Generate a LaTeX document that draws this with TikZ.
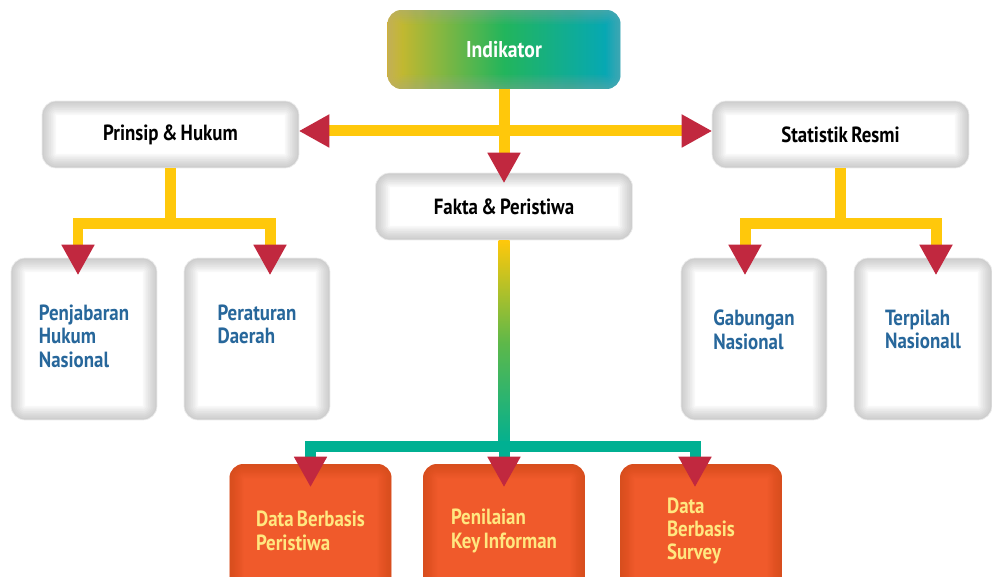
\documentclass[tikz,border=0pt]{standalone}
\usepackage{fontspec}
\setmainfont{PT Sans}[FakeStretch=0.86, WordSpace=0.7]
\usepackage{xcolor}
\usepackage{tikz}
\usetikzlibrary{arrows.meta,positioning}

\definecolor{lineyellow}{HTML}{FFC80B}
\definecolor{lineteal}{HTML}{00B092}
\definecolor{midgreen}{HTML}{5DB84A}
\definecolor{tipred}{HTML}{C1283F}
\definecolor{boxorange}{HTML}{F05A2B}
\definecolor{orangeedge}{HTML}{B8400F}
\definecolor{txtblue}{HTML}{27679B}
\definecolor{txtyellow}{HTML}{FFE780}
\definecolor{indyellow}{HTML}{D8B82A}
\definecolor{indgreen}{HTML}{22B55C}
\definecolor{indteal}{HTML}{02A6C0}

\begin{document}
\begin{tikzpicture}[
    x=0.02cm, y=-0.02cm,
    glow/.style={path picture={\foreach \w in {2,4,...,16}
        \draw[#1, opacity=0.055, line width=\w pt, rounded corners=0.28cm]
        (path picture bounding box.north west) rectangle (path picture bounding box.south east);}},
    topbox/.style={rectangle, rounded corners=0.28cm, minimum width=4.66cm, minimum height=1.58cm, left color=indyellow, right color=indteal, middle color=indgreen, glow=black!35, text=white, font=\bfseries\fontsize{13}{14}\selectfont},
    mainbox/.style={rectangle, rounded corners=0.28cm, draw=gray!15, fill=white, glow=gray, minimum width=5.14cm, minimum height=1.34cm, font=\bfseries\fontsize{12.5}{13.5}\selectfont},
    subbox/.style={rectangle, rounded corners=0.28cm, draw=gray!15, fill=white, glow=gray, minimum width=2.92cm, minimum height=3.24cm},
    subtext/.style={align=left, inner sep=0pt, text=txtblue, font=\bfseries\fontsize{12.5}{13.3}\selectfont},
    leafbox/.style={rectangle, rounded corners=0.28cm, fill=boxorange, glow=orangeedge, minimum width=3.24cm, minimum height=2.68cm, align=left, text=txtyellow, font=\bfseries\fontsize{12.5}{13.3}\selectfont},
    arrow/.style={->, >={Triangle[width=0.67cm, length=0.6cm, line width=0pt, color=tipred]}, line width=0.22cm, draw=lineyellow},
    tarrow/.style={arrow, draw=lineteal},
    darrow/.style={arrow, <->}
]
    \useasboundingbox (0,0) rectangle (992,577);
    \clip (0,0) rectangle (992,577);

    \node[topbox] (indikator) at (504,49.5) {Indikator};
    \node[mainbox] (prinsip) at (170.5,134.5) {Prinsip \& Hukum};
    \node[mainbox] (statistik) at (840.5,134.5) {Statistik Resmi};
    \node[mainbox] (fakta) at (504,206.5) {Fakta \& Peristiwa};

    \node[subbox] (pjb) at (84,339) {};
    \node[subbox] (perda) at (257,339) {};
    \node[subbox] (gabungan) at (754,339) {};
    \node[subbox, minimum width=2.76cm] (terpilah) at (923,339) {};
    \node[subtext, below=0.94cm of pjb.north] (pjbtext) {Penjabaran\\Hukum\\Nasional};
    \node[subtext, below=0.94cm of perda.north] (perdatext) {Peraturan\\Daerah};
    \node[subtext, below=1.04cm of gabungan.north] (gabtext) {Gabungan\\Nasional};
    \node[subtext, below=1.04cm of terpilah.north] (terptext) {Terpilah\\Nasionall};

    \node[leafbox] (dbp) at (310.5,531) {Data Berbasis\\Peristiwa};
    \node[leafbox] (pki) at (504,531) {Penilaian\\Key Informan};
    \node[leafbox] (dbs) at (701,531) {Data\\Berbasis\\Survey};

    \draw[darrow] ([yshift=0.07cm]prinsip.east) -- ([yshift=0.07cm]statistik.west);
    \draw[arrow] (indikator.south) -- ([yshift=-0.2cm]fakta.north);
    \draw[arrow] (prinsip.south) -- ++(0,55) -| ([shift={(-6,17)}]pjb.north);
    \draw[arrow] (prinsip.south) -- ++(0,55) -| ([shift={(13,17)}]perda.north);
    \draw[arrow] (statistik.south) -- ++(0,55) -| ([shift={(-9,17)}]gabungan.north);
    \draw[arrow] (statistik.south) -- ++(0,55) -| ([shift={(13,17)}]terpilah.north);

    % gradient stem down to the three sources
    \path (fakta.south) ++(0,206) coordinate (hub);
    \shade[top color=lineyellow, bottom color=lineteal, middle color=midgreen] ([xshift=-0.11cm]fakta.south) rectangle ([xshift=0.11cm]hub);
    \draw[tarrow] (hub) -| ([yshift=-0.46cm]dbp.north);
    \draw[tarrow] (hub) -| ([shift={(-6,23)}]dbs.north);
    \draw[tarrow] (hub) -- ([yshift=-0.46cm]pki.north);
\end{tikzpicture}
\end{document}
